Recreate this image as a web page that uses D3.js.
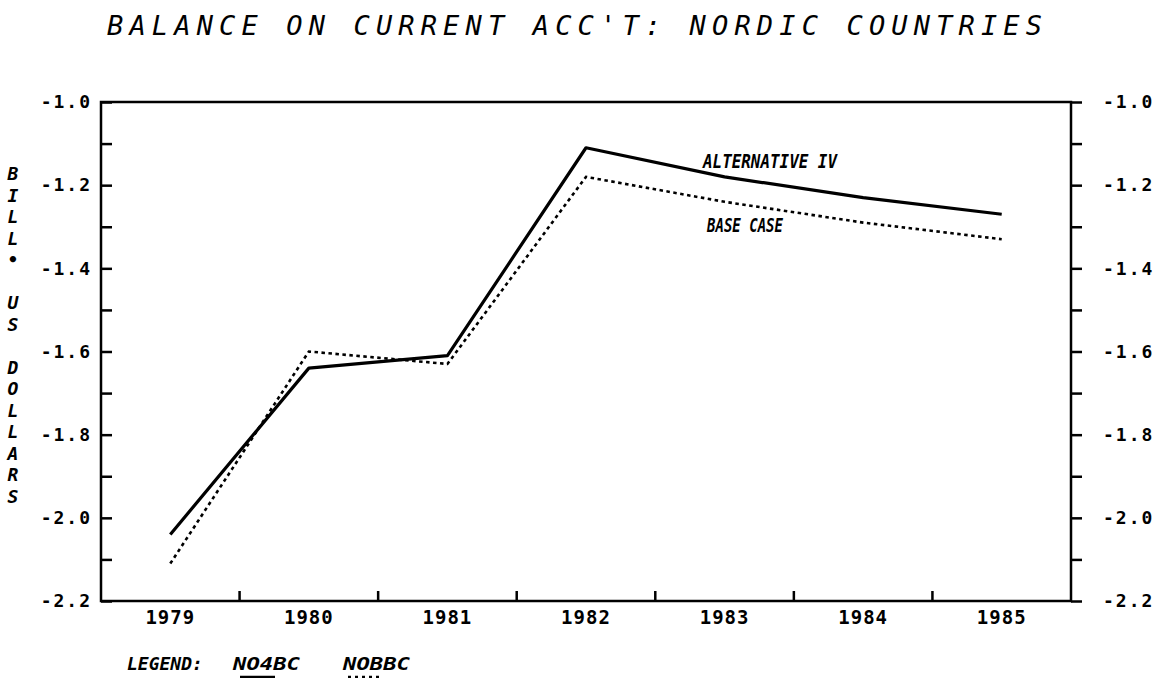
<!DOCTYPE html>
<html>
<head>
<meta charset="utf-8">
<script src="https://cdn.jsdelivr.net/npm/d3@7"></script>
<style>
  body { margin: 0; background: #fff; }
  svg { display: block; }
  text { fill: #000; }
</style>
</head>
<body>
<div id="canvas"></div>
<script>
// values (billions of US dollars)
const years = ["1979", "1980", "1981", "1982", "1983", "1984", "1985"];
const alternativeIV = [-2.04, -1.64, -1.61, -1.11, -1.18, -1.23, -1.27];
const baseCase = [-2.11, -1.60, -1.63, -1.18, -1.24, -1.29, -1.33];
const yTickValues = [-1.0, -1.2, -1.4, -1.6, -1.8, -2.0, -2.2];
const yTickLabels = ["-1.0", "-1.2", "-1.4", "-1.6", "-1.8", "-2.0", "-2.2"];
const yMinorTicks = [-1.0, -1.1, -1.2, -1.3, -1.4, -1.5, -1.6, -1.7, -1.8, -1.9, -2.0, -2.1, -2.2];
const yAxisTitle = ["B", "I", "L", "L", "\u2022", "", "U", "S", "", "D", "O", "L", "L", "A", "R", "S"];
const legendNames = ["NO4BC", "NOBBC"];

const width = 1159;
const height = 678;
const margin = { top: 102, left: 101, bottom: 77, right: 88 };
const iwidth = width - margin.left - margin.right;
const iheight = height - margin.top - margin.bottom;

const mono = "'DejaVu Sans Mono', 'Liberation Mono', monospace";

const svg = d3.select("#canvas").append("svg")
  .attr("width", width)
  .attr("height", height);

const g = svg.append("g")
  .attr("transform", `translate(${margin.left},${margin.top})`);

const x = d3.scaleBand()
  .domain(years)
  .range([0, iwidth]);

const y = d3.scaleLinear()
  .domain([-1.0, -2.2])
  .range([0, iheight]);

// title
svg.append("text")
  .attr("x", 107)
  .attr("y", 35)
  .attr("textLength", 935)
  .attr("lengthAdjust", "spacing")
  .style("font-family", mono)
  .style("font-style", "oblique")
  .style("font-size", "27px")
  .text("BALANCE ON CURRENT ACC'T: NORDIC COUNTRIES");

// frame
g.append("rect")
  .attr("width", iwidth)
  .attr("height", iheight)
  .attr("fill", "none")
  .attr("stroke", "#000")
  .attr("stroke-width", 2.5);

// left axis: ticks point inward
const left = g.append("g")
  .call(d3.axisLeft(y).tickValues(yMinorTicks).tickSize(-11).tickFormat(""));
left.select(".domain").remove();
left.selectAll("line").attr("stroke-width", 2.5);

// right axis: ticks point outward
const right = g.append("g")
  .attr("transform", `translate(${iwidth},0)`)
  .call(d3.axisRight(y).tickValues(yMinorTicks).tickSize(11).tickFormat(""));
right.select(".domain").remove();
right.selectAll("line").attr("stroke-width", 2.5);

// tick labels, both sides
const labelStyle = sel => sel
  .style("font-family", mono)
  .style("font-weight", "bold")
  .style("font-size", "18px")
  .style("letter-spacing", "2px");

g.selectAll(".ylab-left")
  .data(yTickValues)
  .enter()
  .append("text")
  .attr("class", "ylab-left")
  .attr("x", -9)
  .attr("y", d => y(d))
  .attr("dy", "0.35em")
  .attr("text-anchor", "end")
  .call(labelStyle)
  .text((d, i) => yTickLabels[i]);

g.selectAll(".ylab-right")
  .data(yTickValues)
  .enter()
  .append("text")
  .attr("class", "ylab-right")
  .attr("x", iwidth + 32)
  .attr("y", d => y(d))
  .attr("dy", "0.35em")
  .call(labelStyle)
  .text((d, i) => yTickLabels[i]);

// bottom axis: ticks between years, pointing up
g.selectAll(".xtick")
  .data(years.slice(1))
  .enter()
  .append("line")
  .attr("class", "xtick")
  .attr("x1", d => x(d))
  .attr("x2", d => x(d))
  .attr("y1", iheight)
  .attr("y2", iheight - 10)
  .attr("stroke", "#000")
  .attr("stroke-width", 2.5);

g.selectAll(".xlab")
  .data(years)
  .enter()
  .append("text")
  .attr("class", "xlab")
  .attr("x", d => x(d) + x.bandwidth() / 2)
  .attr("y", iheight + 23)
  .attr("text-anchor", "middle")
  .style("font-family", mono)
  .style("font-weight", "bold")
  .style("font-size", "19px")
  .style("letter-spacing", "1px")
  .text(d => d);

// y axis title, one letter per row
svg.selectAll(".ytitle")
  .data(yAxisTitle)
  .enter()
  .append("text")
  .attr("class", "ytitle")
  .attr("x", 13)
  .attr("y", (d, i) => 180 + i * 21.5)
  .attr("text-anchor", "middle")
  .style("font-family", mono)
  .style("font-weight", "bold")
  .style("font-style", "oblique")
  .style("font-size", "18px")
  .text(d => d);

// series
const line = d3.line()
  .x((d, i) => x(years[i]) + x.bandwidth() / 2)
  .y(d => y(d));

g.append("path")
  .datum(alternativeIV)
  .attr("d", line)
  .attr("fill", "none")
  .attr("stroke", "#000")
  .attr("stroke-width", 3.2)
  .attr("stroke-linejoin", "round");

g.append("path")
  .datum(baseCase)
  .attr("d", line)
  .attr("fill", "none")
  .attr("stroke", "#000")
  .attr("stroke-width", 2.6)
  .attr("stroke-dasharray", "3.5,3.5");

// line labels
const seriesLabel = (txt, px, py, len) => svg.append("text")
  .attr("x", px)
  .attr("y", py)
  .attr("textLength", len)
  .attr("lengthAdjust", "spacingAndGlyphs")
  .style("font-family", mono)
  .style("font-weight", "bold")
  .style("font-style", "oblique")
  .style("font-size", "19px")
  .text(txt);

seriesLabel("ALTERNATIVE IV", 703, 168, 134);
seriesLabel("BASE CASE", 707, 232, 76);

// legend
svg.append("text")
  .attr("x", 127)
  .attr("y", 670)
  .style("font-family", mono)
  .style("font-weight", "bold")
  .style("font-style", "oblique")
  .style("font-size", "18px")
  .text("LEGEND:");

svg.selectAll(".legname")
  .data(legendNames)
  .enter()
  .append("text")
  .attr("class", "legname")
  .attr("x", (d, i) => 233 + i * 110)
  .attr("y", 670)
  .attr("textLength", 67)
  .attr("lengthAdjust", "spacingAndGlyphs")
  .style("font-family", mono)
  .style("font-weight", "bold")
  .style("font-style", "oblique")
  .style("font-size", "18px")
  .text(d => d);

svg.append("line")
  .attr("x1", 240).attr("x2", 275)
  .attr("y1", 677).attr("y2", 677)
  .attr("stroke", "#000")
  .attr("stroke-width", 2.5);

svg.append("line")
  .attr("x1", 348).attr("x2", 380)
  .attr("y1", 677).attr("y2", 677)
  .attr("stroke", "#000")
  .attr("stroke-width", 2.5)
  .attr("stroke-dasharray", "3,4");
</script>
</body>
</html>
